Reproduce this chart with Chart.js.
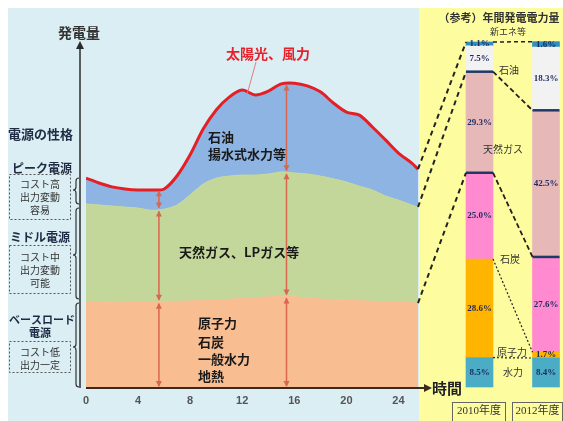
<!DOCTYPE html>
<html lang="ja">
<head>
<meta charset="UTF-8">
<title>電源の性格と年間発電電力量</title>
<script src="https://cdn.jsdelivr.net/npm/chart.js"></script>
<style>
  body { margin:0; width:563px; height:421px; overflow:hidden; background:#fff; position:relative; }
  #leftBg { position:absolute; left:8px; top:8px; width:411px; height:413px; background:#daeef3; }
  #rightBg { position:absolute; left:419px; top:8px; width:144px; height:413px; background:#fdfc9f; }
  #areaChart { position:absolute; left:0; top:0; }
  #barChart { position:absolute; left:400px; top:0; }
</style>
</head>
<body>
<div id="leftBg"></div>
<div id="rightBg"></div>
<canvas id="areaChart" width="563" height="421"></canvas>
<canvas id="barChart" width="163" height="421"></canvas>
<script>
  // 1日の電力需要（時間 → 発電量、積み上げた上端の値）
  const hours = [0,1,2,3,4,5,6,7,8,9,10,11,12,13,14,15,16,17,18,19,20,21,22,23,24,25,25.5];
  const baseLoadTop = [24.7,24.7,24.6,24.6,24.7,24.7,24.8,24.9,25.0,25.2,25.3,25.5,25.7,25.9,26.2,26.4,26.2,25.9,25.6,25.4,25.3,25.1,24.9,24.8,24.7,24.5,24.4];
  const middleTop = [52.9,52.6,52.3,52.0,51.7,51.1,51.4,52.6,55.5,58.6,60.3,60.9,61.2,61.2,61.5,62.1,61.8,61.5,60.9,60.1,59.2,58.0,56.9,55.2,54.0,52.6,52.0];
  const demandTop = [60.3,58.9,57.8,57.2,56.9,56.9,57.2,61.0,67.0,74.4,79.9,83.6,85.6,84.2,85.3,87.4,87.6,86.8,85.1,81.9,79.3,78.4,75.0,71.3,67.5,64.7,62.9];
  const hourTicks = [0,4,8,12,16,20,24];
  const arrowHours = [5.6, 15.4];

  // 年間発電電力量（%）
  const years = ['2010年度','2012年度'];
  const hydro = [8.5, 8.4];
  const nuclear = [28.6, 1.7];
  const coal = [25.0, 27.6];
  const gas = [29.3, 42.5];
  const oil = [7.5, 18.3];
  const newEnergy = [1.1, 1.6];
  const sourceNames = ['水力','原子力','石炭','天然ガス','石油','新エネ等'];

  const JP = '"Noto Sans CJK JP", sans-serif';

  function valueAt(arr, h) {
    for (let i = 1; i < hours.length; i++) {
      if (h <= hours[i]) {
        const t = (h - hours[i-1]) / (hours[i] - hours[i-1]);
        return arr[i-1] + t * (arr[i] - arr[i-1]);
      }
    }
    return arr[arr.length-1];
  }

  function head(ctx, x, y, dir, w, l) {
    ctx.beginPath();
    ctx.moveTo(x, y);
    ctx.lineTo(x - w, y - dir * l);
    ctx.lineTo(x + w, y - dir * l);
    ctx.closePath();
    ctx.fill();
  }

  function doubleArrow(ctx, x, yTop, yBot) {
    ctx.beginPath();
    ctx.moveTo(x, yTop + 2);
    ctx.lineTo(x, yBot - 2);
    ctx.stroke();
    head(ctx, x, yTop + 1, -1, 3, 6);
    head(ctx, x, yBot - 1, 1, 3, 6);
  }

  function brace(ctx, x, yTop, yBot, yMid) {
    ctx.beginPath();
    ctx.moveTo(x + 3, yTop);
    ctx.quadraticCurveTo(x, yTop, x, yTop + 3);
    ctx.lineTo(x, yMid - 3);
    ctx.quadraticCurveTo(x, yMid, x - 3, yMid);
    ctx.quadraticCurveTo(x, yMid, x, yMid + 3);
    ctx.lineTo(x, yBot - 3);
    ctx.quadraticCurveTo(x, yBot, x + 3, yBot);
    ctx.stroke();
  }

  function dashedBox(ctx, x, y, w, h) {
    ctx.save();
    ctx.setLineDash([2, 2]);
    ctx.strokeStyle = '#555';
    ctx.lineWidth = 1;
    ctx.strokeRect(x + 0.5, y + 0.5, w, h);
    ctx.restore();
  }

  const areaDecor = {
    id: 'areaDecor',
    afterDraw(chart) {
      const ctx = chart.ctx;
      const xs = chart.scales.x, ys = chart.scales.y;
      const bottom = ys.getPixelForValue(0);
      ctx.save();

      // 縦軸（矢印）
      ctx.strokeStyle = '#2b2b2b';
      ctx.fillStyle = '#2b2b2b';
      ctx.lineWidth = 1.5;
      ctx.beginPath();
      ctx.moveTo(80, bottom);
      ctx.lineTo(80, 46);
      ctx.stroke();
      head(ctx, 80, 41, -1, 4, 8);

      // 横軸（矢印）
      ctx.strokeStyle = '#3b2a20';
      ctx.fillStyle = '#3b2a20';
      ctx.lineWidth = 2;
      ctx.beginPath();
      ctx.moveTo(xs.left, bottom);
      ctx.lineTo(426, bottom);
      ctx.stroke();
      ctx.beginPath();
      ctx.moveTo(432, bottom);
      ctx.lineTo(424, bottom - 4);
      ctx.lineTo(424, bottom + 4);
      ctx.closePath();
      ctx.fill();

      // 需要の内訳を示す矢印
      ctx.strokeStyle = '#d8674f';
      ctx.fillStyle = '#d8674f';
      ctx.lineWidth = 1.5;
      arrowHours.forEach(h => {
        const x = xs.getPixelForValue(h);
        const y1 = ys.getPixelForValue(valueAt(baseLoadTop, h));
        const y2 = ys.getPixelForValue(valueAt(middleTop, h));
        const y3 = ys.getPixelForValue(valueAt(demandTop, h));
        doubleArrow(ctx, x, y1, bottom);
        doubleArrow(ctx, x, y2, y1);
        doubleArrow(ctx, x, y3, y2);
      });

      // 太陽光、風力
      ctx.strokeStyle = '#e57b82';
      ctx.lineWidth = 1;
      ctx.beginPath();
      ctx.moveTo(256, 62);
      ctx.lineTo(xs.getPixelForValue(12.4), ys.getPixelForValue(valueAt(demandTop, 12.4)) + 1);
      ctx.stroke();
      ctx.textBaseline = 'middle';
      ctx.textAlign = 'center';
      ctx.fillStyle = '#e8202a';
      ctx.font = 'bold 14px ' + JP;
      ctx.fillText('太陽光、風力', 268, 54);

      // 軸ラベル
      ctx.fillStyle = '#333';
      ctx.font = 'bold 14px ' + JP;
      ctx.fillText('発電量', 79, 33);
      ctx.fillStyle = '#222';
      ctx.font = 'bold 15px ' + JP;
      ctx.textAlign = 'left';
      ctx.fillText('時間', 432, bottom);

      // 電源名
      ctx.fillStyle = '#1a1a1a';
      ctx.font = 'bold 13px ' + JP;
      ctx.fillText('石油', 208, 137);
      ctx.fillText('揚水式水力等', 208, 154);
      ctx.fillText('天然ガス、LPガス等', 179, 252);
      ctx.fillText('原子力', 198, 323);
      ctx.fillText('石炭', 198, 342);
      ctx.fillText('一般水力', 198, 359);
      ctx.fillText('地熱', 198, 376);

      // 左側：電源の性格
      ctx.fillStyle = '#1f2a44';
      ctx.font = 'bold 13px ' + JP;
      ctx.fillText('電源の性格', 8, 134);
      ctx.textAlign = 'center';
      ctx.font = 'bold 12px ' + JP;
      ctx.fillText('ピーク電源', 42, 168);
      ctx.fillText('ミドル電源', 40, 237);
      ctx.font = 'bold 11px ' + JP;
      ctx.fillText('ベースロード', 42, 320);
      ctx.fillText('電源', 40, 333);

      dashedBox(ctx, 9, 174, 61, 45);
      dashedBox(ctx, 9, 245, 61, 48);
      dashedBox(ctx, 9, 341, 61, 31);
      ctx.fillStyle = '#333';
      ctx.font = '10px ' + JP;
      ctx.fillText('コスト高', 40, 184);
      ctx.fillText('出力変動', 40, 197);
      ctx.fillText('容易', 40, 210);
      ctx.fillText('コスト中', 40, 257);
      ctx.fillText('出力変動', 40, 270);
      ctx.fillText('可能', 40, 283);
      ctx.fillText('コスト低', 40, 352);
      ctx.fillText('出力一定', 40, 365);

      ctx.strokeStyle = '#333';
      ctx.lineWidth = 1.2;
      brace(ctx, 76, 178, 204, 190);
      brace(ctx, 76, 208, 299, 255);
      brace(ctx, 76, 303, 387, 347);
      ctx.restore();
    }
  };

  const areaChart = new Chart(document.getElementById('areaChart'), {
    type: 'line',
    data: {
      datasets: [
        {
          label: 'ベースロード電源',
          data: hours.map((h, i) => ({ x: h, y: baseLoadTop[i] })),
          fill: 'origin',
          backgroundColor: '#f9bd92',
          borderColor: '#f9bd92',
          borderWidth: 1,
          pointRadius: 0,
          tension: 0.3
        },
        {
          label: 'ミドル電源',
          data: hours.map((h, i) => ({ x: h, y: middleTop[i] })),
          fill: '-1',
          backgroundColor: '#c4d79b',
          borderColor: '#c4d79b',
          borderWidth: 1,
          pointRadius: 0,
          tension: 0.3
        },
        {
          label: 'ピーク電源',
          data: hours.map((h, i) => ({ x: h, y: demandTop[i] })),
          fill: '-1',
          backgroundColor: '#8db4e2',
          borderColor: '#e41f26',
          borderWidth: 3,
          pointRadius: 0,
          tension: 0.3
        }
      ]
    },
    options: {
      responsive: false,
      animation: false,
      layout: { padding: { left: 86, right: 145, top: 40, bottom: 0 } },
      plugins: { legend: { display: false }, tooltip: { enabled: false } },
      scales: {
        x: {
          type: 'linear',
          min: 0,
          max: 25.5,
          grid: { display: false, drawTicks: false },
          border: { display: false },
          afterBuildTicks: s => { s.ticks = hourTicks.map(v => ({ value: v })); },
          afterFit: s => { s.height = 33; },
          ticks: { padding: 6, maxRotation: 0, color: '#555', font: { size: 11, weight: 'bold', family: 'Arial' } }
        },
        y: { display: false, min: 0, max: 100 }
      }
    },
    plugins: [areaDecor]
  });

  const OX = 400;

  const barDecor = {
    id: 'barDecor',
    afterDraw(chart) {
      const ctx = chart.ctx;
      const xs = chart.scales.x, ys = chart.scales.y;
      const half = 13.5;
      const series = chart.data.datasets.map(d => d.data);
      const cum = years.map((_, j) => {
        const out = [0];
        series.forEach(s => out.push(out[out.length-1] + s[j]));
        return out;
      });
      const xA = xs.getPixelForValue(0), xB = xs.getPixelForValue(1);
      const yOf = v => ys.getPixelForValue(v);
      ctx.save();

      // 境界線（紺）
      ctx.strokeStyle = '#1f3864';
      ctx.lineWidth = 2.5;
      [3, 4].forEach(k => {
        [xA, xB].forEach((x, j) => {
          ctx.beginPath();
          ctx.moveTo(x - half, yOf(cum[j][k]));
          ctx.lineTo(x + half, yOf(cum[j][k]));
          ctx.stroke();
        });
      });

      // 棒の間の破線
      ctx.strokeStyle = '#222';
      [[6, 1.5, [4, 3]], [4, 1.8, [5, 3]], [3, 1.8, [5, 3]], [2, 1.2, [2, 2]], [1, 1.2, [2, 2]]].forEach(([k, w, dash]) => {
        ctx.lineWidth = w;
        ctx.setLineDash(dash);
        ctx.beginPath();
        ctx.moveTo(xA + half, yOf(cum[0][k]));
        ctx.lineTo(xB - half, yOf(cum[1][k]));
        ctx.stroke();
      });

      // 左のグラフから2010年度の棒への破線
      const ax = areaChart.scales.x, ay = areaChart.scales.y;
      const last = hours.length - 1;
      const xl = ax.getPixelForValue(hours[last]) - OX;
      ctx.lineWidth = 2;
      ctx.setLineDash([5, 4]);
      [[demandTop[last], 6], [middleTop[last], 4], [baseLoadTop[last], 3]].forEach(([v, k]) => {
        ctx.beginPath();
        ctx.moveTo(xl, ay.getPixelForValue(v));
        ctx.lineTo(xA - half, yOf(cum[0][k]));
        ctx.stroke();
      });
      ctx.setLineDash([]);

      // 割合ラベル
      ctx.textAlign = 'center';
      ctx.textBaseline = 'middle';
      ctx.fillStyle = '#1f2b5e';
      ctx.font = 'bold 9px "Liberation Serif", serif';
      [xA, xB].forEach((x, j) => {
        series.forEach((s, k) => {
          const mid = (cum[j][k] + cum[j][k+1]) / 2;
          ctx.fillText(s[j].toFixed(1) + '%', x, yOf(mid));
        });
      });

      // 電源名
      ctx.fillStyle = '#333';
      ctx.font = '10px ' + JP;
      const names = [[113, 372], [112, 352], [110, 259], [103, 149], [109, 70]];
      names.forEach(([x, y], k) => ctx.fillText(sourceNames[k], x, y));
      ctx.font = '9px ' + JP;
      ctx.fillText(sourceNames[5], 108, 32);

      // タイトル
      ctx.fillStyle = '#333';
      ctx.font = 'bold 11px ' + JP;
      ctx.fillText('（参考）年間発電電力量', 99, 18);

      // 年度ラベル
      ctx.font = '11px "Liberation Serif", ' + JP;
      [[52, 53], [112, 50]].forEach(([bx, bw], j) => {
        ctx.strokeStyle = '#666';
        ctx.lineWidth = 1;
        ctx.strokeRect(bx + 0.5, 402.5, bw, 20);
        ctx.fillStyle = '#333';
        ctx.fillText(years[j], bx + bw / 2 + 0.5, 411);
      });
      ctx.restore();
    }
  };

  const barColors = ['#4bacc6', '#ffb400', '#ff8ad0', '#e6b9b8', '#f2f2f2', '#2f8fc0'];
  const barSeries = [hydro, nuclear, coal, gas, oil, newEnergy];

  new Chart(document.getElementById('barChart'), {
    type: 'bar',
    data: {
      labels: years,
      datasets: barSeries.map((s, k) => ({
        label: sourceNames[k],
        data: s,
        backgroundColor: barColors[k],
        borderWidth: 0,
        barThickness: 27,
        clip: false
      }))
    },
    options: {
      responsive: false,
      animation: false,
      layout: { padding: { left: 79.5, right: 17, top: 42, bottom: 34 } },
      plugins: { legend: { display: false }, tooltip: { enabled: false } },
      scales: {
        x: { stacked: true, offset: false, display: false },
        y: { stacked: true, display: false, min: 0, max: 100 }
      }
    },
    plugins: [barDecor]
  });
</script>
</body>
</html>
